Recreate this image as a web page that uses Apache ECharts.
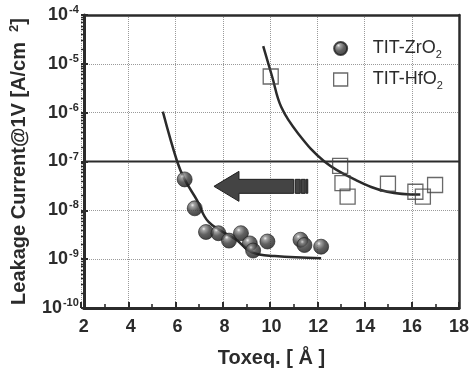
<!DOCTYPE html>
<html>
<head>
<meta charset="utf-8">
<script src="https://cdn.jsdelivr.net/npm/echarts@6/dist/echarts.min.js"></script>
<style>
  html, body { margin: 0; padding: 0; background: #fff; }
  #wrap { position: relative; width: 474px; height: 375px; }
  .layer { position: absolute; left: 0; top: 0; width: 474px; height: 375px; }
</style>
</head>
<body>
<div id="wrap">
  <div id="gridLayer" class="layer"></div>
  <div id="minorLayer" class="layer"></div>
  <div id="chart" class="layer"></div>
</div>
<script>
// TIT-ZrO2 measured points: Tox eq. [A] and leakage current [A/cm2]
const zrTox = [6.30, 6.73, 7.21, 7.74, 8.19, 8.70, 9.08, 9.22, 9.83, 11.24, 11.41, 12.12];
const zrLeak = [4.3e-8, 1.1e-8, 3.6e-9, 3.4e-9, 2.4e-9, 3.4e-9, 2.1e-9, 1.5e-9, 2.3e-9, 2.5e-9, 1.95e-9, 1.8e-9];

// TIT-HfO2 measured points
const hfTox = [9.97, 12.93, 13.03, 13.25, 14.97, 16.14, 16.46, 16.98];
const hfLeak = [5.5e-6, 8.1e-8, 3.6e-8, 1.9e-8, 3.5e-8, 2.4e-8, 1.9e-8, 3.3e-8];

// guide curves
const zrFitTox = [5.37, 5.98, 6.30, 6.83, 7.32, 8.50, 9.15, 10.14, 12.12];
const zrFitLeak = [1.05e-6, 1.0e-7, 4.3e-8, 1.6e-8, 5.8e-9, 2.5e-9, 1.4e-9, 1.16e-9, 1.05e-9];
const hfFitTox = [9.65, 10.03, 10.42, 11.13, 12.26, 13.59, 14.94, 16.35];
const hfFitLeak = [2.3e-5, 5.5e-6, 1.3e-6, 3.8e-7, 1.0e-7, 4.2e-8, 2.4e-8, 2.1e-8];

// reference level and arrow
const refLevel = 1e-7;
const arrowFrom = 11.55;
const arrowTo = 7.55;
const arrowAt = 3.1e-8;

const xMin = 2, xMax = 18;
const yMin = 1e-10, yMax = 1e-4;
const yDecades = [-10, -9, -8, -7, -6, -5, -4];

const zip = (a, b) => a.map((v, i) => [v, b[i]]);

// log minor ticks 2..9 x 10^e
const yMinorTicks = [];
yDecades.slice(0, -1).forEach(e => {
  for (let k = 2; k <= 9; k++) yMinorTicks.push(k * Math.pow(10, e));
});

const ink = '#2b2b2b';
const gridPos = { left: 81, right: 15, top: 15, bottom: 67 };
const ball = new echarts.graphic.RadialGradient(0.36, 0.3, 0.75, [
  { offset: 0, color: '#ececec' },
  { offset: 0.16, color: '#8c8c8c' },
  { offset: 0.5, color: '#3a3a3a' },
  { offset: 1, color: '#121212' }
]);

// bottom layer: dotted grid and major ticks only
const gridChart = echarts.init(document.getElementById('gridLayer'));
gridChart.setOption({
  animation: false,
  grid: gridPos,
  xAxis: {
    type: 'value', min: xMin, max: xMax, interval: 2,
    axisLine: { show: false },
    axisLabel: { show: false },
    axisTick: { show: true, inside: true, length: 6, lineStyle: { color: ink, width: 2 } },
    splitLine: { show: true, lineStyle: { color: '#9a9a9a', type: 'dotted' } }
  },
  yAxis: {
    type: 'log', min: yMin, max: yMax,
    axisLine: { show: false },
    axisLabel: { show: false },
    axisTick: { show: true, inside: true, length: 7, lineStyle: { color: ink, width: 2 } },
    splitLine: { show: true, lineStyle: { color: '#9a9a9a', type: 'dotted' } }
  },
  series: [{ type: 'scatter', data: [], silent: true }]
});

// middle layer: minor ticks
const minorChart = echarts.init(document.getElementById('minorLayer'));
minorChart.setOption({
  animation: false,
  grid: gridPos,
  xAxis: {
    type: 'value', min: xMin, max: xMax, interval: 2,
    axisLine: { show: false },
    axisLabel: { show: false },
    axisTick: { show: true, inside: true, length: 6, lineStyle: { color: ink, width: 2 } },
    minorTick: { show: true, splitNumber: 2, length: 4, lineStyle: { color: ink, width: 1.6 } },
    splitLine: { show: false }
  },
  yAxis: {
    type: 'log', min: yMin, max: yMax,
    axisLine: { show: false },
    axisLabel: { show: false },
    axisTick: {
      show: true, inside: true, length: 4,
      customValues: yMinorTicks,
      lineStyle: { color: ink, width: 1.4 }
    },
    splitLine: { show: false }
  },
  series: [{ type: 'scatter', data: [], silent: true }]
});

// plain frame line for the top and right sides
const frameAxis = {
  axisLine: { show: true, onZero: false, lineStyle: { color: ink, width: 2.5 } },
  axisTick: { show: false },
  axisLabel: { show: false },
  splitLine: { show: false }
};

// top layer: frame, labels, legend and data
const chart = echarts.init(document.getElementById('chart'));

const option = {
  backgroundColor: 'rgba(0,0,0,0)',
  animation: false,
  textStyle: { fontFamily: 'Liberation Sans, Arial, sans-serif' },
  grid: gridPos,
  legend: {
    orient: 'vertical',
    left: 328, top: 32,
    itemWidth: 14, itemHeight: 13,
    itemGap: 8,
    data: [
      { name: 'zr', icon: 'circle' },
      { name: 'hf', icon: 'rect', itemStyle: { color: '#fff', borderColor: '#444', borderWidth: 1.3 } }
    ],
    formatter: n => n === 'zr'
      ? '{t|TIT-ZrO}{s|2}'
      : '{t|TIT-HfO}{s|2}',
    textStyle: {
      rich: {
        t: { fontSize: 18, color: ink, padding: [0, 0, 0, 20], lineHeight: 20 },
        s: { fontSize: 11, color: ink, padding: [12, 0, 0, 0], lineHeight: 20 }
      }
    }
  },
  xAxis: [
    {
      type: 'value',
      min: xMin, max: xMax, interval: 2,
      name: 'Toxeq. [ Å ]',
      nameLocation: 'middle',
      nameGap: 40,
      nameTextStyle: { fontSize: 20, fontWeight: 'bold', color: ink },
      axisLine: { show: true, lineStyle: { color: ink, width: 3 } },
      axisTick: { show: false },
      axisLabel: { margin: 10, fontSize: 18, fontWeight: 'bold', color: ink },
      splitLine: { show: false }
    },
    Object.assign({ type: 'value', min: xMin, max: xMax, position: 'top' }, frameAxis)
  ],
  yAxis: [
    {
      type: 'log',
      min: yMin, max: yMax,
      name: '{t|Leakage Current@1V [A/cm}{s|2}{t|]}',
      nameLocation: 'middle',
      nameRotate: 90,
      nameGap: 44,
      nameTextStyle: {
        rich: {
          t: { fontSize: 20, fontWeight: 'bold', color: ink, lineHeight: 24 },
          s: { fontSize: 13, fontWeight: 'bold', color: ink, padding: [0, 0, 10, 10], lineHeight: 24 }
        }
      },
      axisLine: { show: true, lineStyle: { color: ink, width: 3 } },
      axisTick: { show: false },
      axisLabel: {
        margin: 5, color: ink,
        formatter: v => {
          const e = Math.round(Math.log10(v));
          return yDecades.includes(e) ? '{b|10}{s|' + e + '}' : '';
        },
        rich: {
          b: { fontSize: 18, fontWeight: 'bold', color: ink, lineHeight: 20 },
          s: { fontSize: 11, fontWeight: 'bold', color: ink, padding: [0, 0, 10, 1], lineHeight: 20 }
        }
      },
      splitLine: { show: false }
    },
    Object.assign({ type: 'log', min: yMin, max: yMax, position: 'right' }, frameAxis)
  ],
  series: [
    {
      name: 'ref', type: 'line', data: [[xMin, refLevel], [xMax, refLevel]],
      showSymbol: false, silent: true, z: 2,
      lineStyle: { color: ink, width: 2 }
    },
    {
      name: 'zrFit', type: 'line', data: zip(zrFitTox, zrFitLeak),
      smooth: 0.4, showSymbol: false, silent: true, z: 2,
      lineStyle: { color: ink, width: 2.5 }
    },
    {
      name: 'hfFit', type: 'line', data: zip(hfFitTox, hfFitLeak),
      smooth: 0.4, showSymbol: false, silent: true, z: 2,
      lineStyle: { color: ink, width: 2.5 }
    },
    {
      name: 'arrow', type: 'custom', z: 3, silent: true,
      data: [[arrowFrom, arrowTo, arrowAt]],
      encode: { x: [0, 1], y: 2 },
      renderItem: (params, api) => {
        const tail = api.coord([api.value(0), api.value(2)]);
        const tip = api.coord([api.value(1), api.value(2)]);
        const cy = tail[1];
        const sh = 7, hh = 15, hl = 25;
        const stripeStart = tail[0] - 14;
        const style = { fill: '#444', stroke: '#1e1e1e', lineWidth: 1 };
        const children = [{
          type: 'polygon',
          shape: { points: [
            [tip[0], cy], [tip[0] + hl, cy - hh], [tip[0] + hl, cy - sh],
            [stripeStart, cy - sh], [stripeStart, cy + sh],
            [tip[0] + hl, cy + sh], [tip[0] + hl, cy + hh]
          ] },
          style
        }];
        [[1.5, 5], [7.5, 4], [12.5, 1.5]].forEach(([o, w]) => {
          children.push({
            type: 'rect',
            shape: { x: stripeStart + o, y: cy - sh, width: w, height: sh * 2 },
            style
          });
        });
        return { type: 'group', children };
      }
    },
    {
      name: 'hf', type: 'scatter', data: zip(hfTox, hfLeak), z: 4,
      symbol: 'rect', symbolSize: 15,
      itemStyle: { color: 'rgba(255,255,255,0)', borderColor: '#444', borderWidth: 1.3 }
    },
    {
      name: 'zr', type: 'scatter', data: zip(zrTox, zrLeak), z: 5,
      symbol: 'circle', symbolSize: 15,
      itemStyle: { color: ball, borderColor: '#1e1e1e', borderWidth: 0.8 }
    }
  ]
};

chart.setOption(option);
</script>
</body>
</html>
